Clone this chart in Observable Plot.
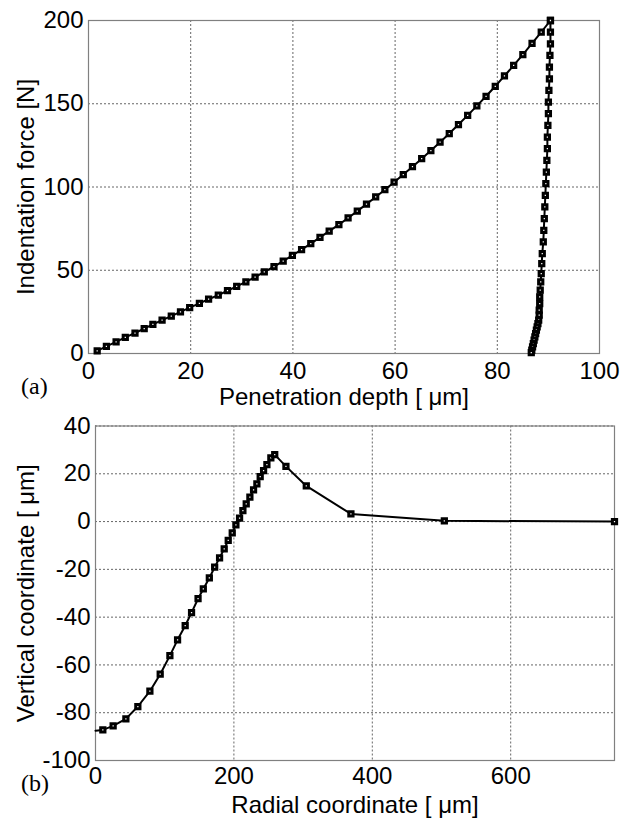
<!DOCTYPE html>
<html><head><meta charset="utf-8">
<script src="https://cdn.jsdelivr.net/npm/d3@7"></script>
<script src="https://cdn.jsdelivr.net/npm/@observablehq/plot@0.6"></script>
<style>
body{margin:0;background:#fff;}
#wrap{position:relative;width:629px;height:819px;background:#fff;overflow:hidden;}
#topc,#botc{position:absolute;left:0;}
#topc{top:0;z-index:2}
#botc{top:400px;z-index:1}
.tag{position:absolute;z-index:3;font-family:"Liberation Serif","Times New Roman",serif;font-size:24px;line-height:24px;}
</style></head><body>
<div id="wrap"><div id="botc"></div><div id="topc"></div>
<div class="tag" style="left:21px;top:374px">(a)</div>
<div class="tag" style="left:21px;top:771px">(b)</div>
</div>
<script>
// (a) loading branch
const loadDepth = [1.7,3.5,5.4,7.2,9.1,10.9,12.6,14.4,16.2,18.0,19.8,21.7,23.5,25.4,27.2,29.0,30.8,32.6,34.4,36.3,38.1,39.9,41.7,43.5,45.3,47.1,49.0,50.8,52.6,54.4,56.2,58.0,59.8,61.6,63.4,65.2,67.0,68.8,70.6,72.4,74.2,76.0,77.8,79.6,81.4,83.2,85.0,86.8,88.6,90.4];
const loadForce = [1.6,4.3,7.0,9.7,12.3,15.0,17.5,20.0,22.5,25.0,27.6,30.1,32.6,35.1,37.7,40.3,43.0,45.9,49.0,52.2,55.5,58.9,62.4,66.0,69.7,73.5,77.4,81.4,85.5,89.7,94.0,98.4,102.9,107.5,112.2,117.0,121.9,126.9,132.1,137.5,143.0,148.7,154.5,160.5,166.7,173.0,179.5,186.2,193.0,200.0];
// (a) unloading branch
const unloadDepth = [90.4,90.4,90.4,90.3,90.2,90.2,90.1,90.0,90.0,89.9,89.8,89.8,89.7,89.6,89.5,89.4,89.3,89.2,89.1,89.0,88.8,88.7,88.6,88.5,88.4,88.3,88.3,88.2,88.2,88.1,87.95,87.8,87.65,87.5,87.35,87.2,87.05,86.9,86.75,86.65];
const unloadForce = [200,193,186,179,172,165,158,151,144,137,130,123,116,109,102,95,88,81,74,67,60,54,48,43,38,34,30,26,23,20,18,16,14,12,10,8,6,4,2,0.5];
const xTicksA = [0,20,40,60,80,100];
const yTicksA = [0,50,100,150,200];

// (b) profile
const radial = [0,10.6,25.5,43.9,61.2,78.6,93.5,107.5,118.6,129.6,138.8,148.2,155.8,164.5,172.2,179.3,186.0,191.8,197.6,202.9,208.2,213.0,217.8,223.1,228.4,233.2,238.0,242.9,247.7,253.4,259.0,275.2,304.6,369.1,504.1,750];
const vertical = [-87.5,-87.2,-85.5,-82.6,-77.4,-71.0,-63.9,-56.1,-49.5,-43.6,-38.1,-32.3,-28.2,-23.6,-19.1,-15.2,-11.4,-7.9,-4.7,-1.4,1.4,4.6,7.4,10.2,13.3,15.8,18.8,21.3,23.8,26.7,28.0,23.1,14.9,3.2,0.3,0];
const xTicksB = [0,200,400,600];
const yTicksB = [-100,-80,-60,-40,-20,0,20,40];

const load = loadDepth.map((d,i)=>({x:d,y:loadForce[i]}));
const unload = unloadDepth.map((d,i)=>({x:d,y:unloadForce[i]}));
const prof = radial.map((d,i)=>({x:d,y:vertical[i]}));

const font = '"Liberation Sans", Arial, sans-serif';
const fmt = d => String(d);
const gridStyle = {stroke:"#666", strokeOpacity:1, strokeWidth:1, strokeDasharray:"2,2"};
const dotStyle = {symbol:"square", r:2.4, stroke:"black", strokeWidth:3, fill:"white"};
const svgStyle = {fontFamily:font, fontSize:"24px", color:"black", background:"none", overflow:"visible"};

const pa = Plot.plot({
  width:629, height:400, marginTop:20, marginBottom:47, marginLeft:88, marginRight:30,
  style:svgStyle,
  x:{domain:[0,100], ticks:xTicksA, tickFormat:fmt, tickSize:0, tickPadding:8, label:"Penetration depth [ μm]", labelAnchor:"center", labelArrow:"none", labelOffset:51},
  y:{domain:[0,200], ticks:yTicksA, tickFormat:fmt, tickSize:0, tickPadding:5, label:"Indentation force [N]", labelAnchor:"center", labelArrow:"none", labelOffset:72},
  marks:[
    Plot.gridX(xTicksA, gridStyle),
    Plot.gridY(yTicksA, gridStyle),
    Plot.frame({stroke:"#808080", strokeWidth:1.2}),
    Plot.line(load,{x:"x",y:"y",stroke:"black",strokeWidth:2}),
    Plot.line(unload,{x:"x",y:"y",stroke:"black",strokeWidth:2}),
    Plot.dot(load,{x:"x",y:"y",...dotStyle}),
    Plot.dot(unload,{x:"x",y:"y",...dotStyle})
  ]
});
document.getElementById("topc").appendChild(pa);

const pb = Plot.plot({
  width:629, height:419, marginTop:25.5, marginBottom:59, marginLeft:95, marginRight:15,
  style:svgStyle,
  x:{domain:[0,750], ticks:xTicksB, tickFormat:fmt, tickSize:0, tickPadding:6, label:"Radial coordinate [ μm]", labelAnchor:"center", labelArrow:"none", labelOffset:52},
  y:{domain:[-100,40], ticks:yTicksB, tickFormat:fmt, tickSize:0, tickPadding:5, label:"Vertical coordinate [ μm]", labelAnchor:"center", labelArrow:"none", labelOffset:79},
  marks:[
    Plot.gridX(xTicksB, gridStyle),
    Plot.gridY(yTicksB, gridStyle),
    Plot.frame({stroke:"#808080", strokeWidth:1.2}),
    Plot.line(prof,{x:"x",y:"y",stroke:"black",strokeWidth:2}),
    Plot.dot(prof.slice(1),{x:"x",y:"y",...dotStyle})
  ]
});
document.getElementById("botc").appendChild(pb);
</script>
</body></html>
